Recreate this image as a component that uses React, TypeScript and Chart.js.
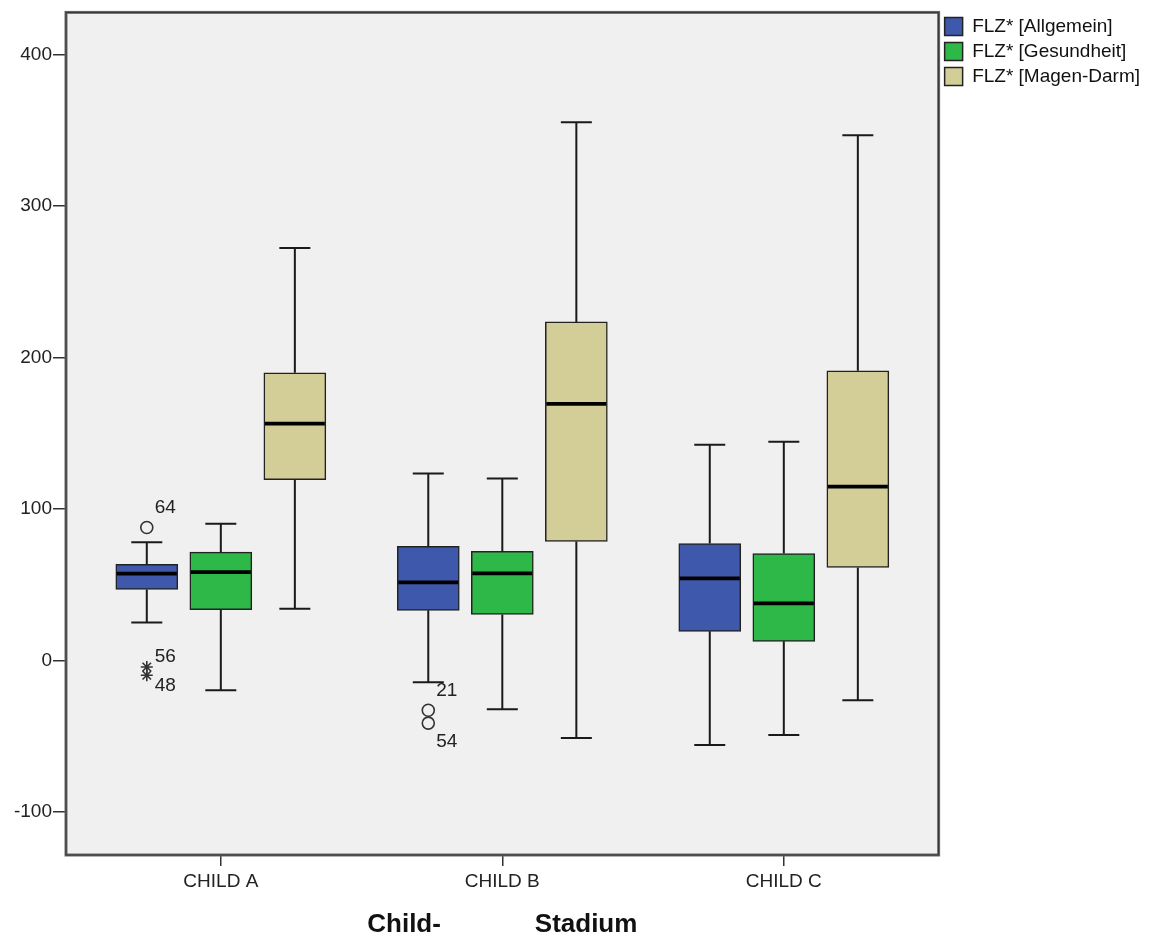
import React, { useEffect, useRef } from 'react';
import { Chart, registerables } from 'chart.js';

Chart.register(...registerables);

// ---------- data ----------
const CATEGORIES = ['CHILD A', 'CHILD B', 'CHILD C'];
const SERIES = ['FLZ* [Allgemein]', 'FLZ* [Gesundheit]', 'FLZ* [Magen-Darm]'];

// [series][category]
const WHISKER_LOW = [
  [24.9, -14.5, -56.0],
  [-19.8, -32.3, -49.4],
  [34.1, -51.4, -26.4],
];
const Q1 = [
  [46.8, 33.0, 19.1],
  [33.4, 30.3, 12.5],
  [119.3, 78.5, 61.3],
];
const MEDIAN = [
  [57.2, 51.4, 54.1],
  [58.2, 57.4, 37.6],
  [156.3, 169.4, 114.7],
];
const Q3 = [
  [63.3, 75.2, 77.1],
  [71.4, 71.9, 70.5],
  [189.9, 223.5, 191.2],
];
const WHISKER_HIGH = [
  [78.0, 123.3, 142.4],
  [90.1, 120.0, 144.4],
  [272.3, 355.4, 346.8],
];

const OUTLIER_IDS = ['64', '56', '48', '21', '54'];
const OUTLIER_VALUES = [87.7, -4.4, -9.9, -33.0, -41.5];
const OUTLIER_CATEGORY = [0, 0, 0, 1, 1];
const OUTLIER_SERIES = [0, 0, 0, 0, 0];
const OUTLIER_EXTREME = [false, true, true, false, false];

const Y_TICKS = [-100, 0, 100, 200, 300, 400];
const Y_MIN = -128.6;
const Y_MAX = 427.9;
const X_TITLE = 'Child-             Stadium';

// ---------- styles / layout ----------
const COLORS = ['#3E58AC', '#2EB848', '#D3CE97'];
const FONT = "'Liberation Sans', Arial, sans-serif";
const SERIES_OFFSET = 0.263;
const X_MIN = -0.55;
const X_MAX = 2.55;
const LABEL_DX = 8;
const LABEL_DY = [-20, -10, 10, -19, 19];

const boxParts = {
  id: 'boxParts',
  beforeDraw(chart: any) {
    const { ctx, chartArea: a } = chart;
    ctx.save();
    ctx.fillStyle = '#ffffff';
    ctx.fillRect(0, 0, chart.width, chart.height);
    ctx.fillStyle = '#f0f0f0';
    ctx.fillRect(a.left, a.top, a.right - a.left, a.bottom - a.top);
    ctx.restore();
  },
  afterDatasetsDraw(chart: any) {
    const { ctx, chartArea: a } = chart;
    const yScale = chart.scales.y;
    ctx.save();
    ctx.lineCap = 'butt';
    for (let s = 0; s < SERIES.length; s++) {
      const meta = chart.getDatasetMeta(s);
      meta.data.forEach((bar: any, c: number) => {
        const { x, width } = bar.getProps(['x', 'width'], true);
        const pHi = yScale.getPixelForValue(WHISKER_HIGH[s][c]);
        const pLo = yScale.getPixelForValue(WHISKER_LOW[s][c]);
        const pQ1 = yScale.getPixelForValue(Q1[s][c]);
        const pQ3 = yScale.getPixelForValue(Q3[s][c]);
        const pMed = yScale.getPixelForValue(MEDIAN[s][c]);
        ctx.strokeStyle = '#1a1a1a';
        ctx.lineWidth = 2;
        ctx.beginPath();
        ctx.moveTo(x, pQ3);
        ctx.lineTo(x, pHi);
        ctx.moveTo(x, pQ1);
        ctx.lineTo(x, pLo);
        ctx.moveTo(x - width / 4, pHi);
        ctx.lineTo(x + width / 4, pHi);
        ctx.moveTo(x - width / 4, pLo);
        ctx.lineTo(x + width / 4, pLo);
        ctx.stroke();
        ctx.strokeStyle = '#000000';
        ctx.lineWidth = 3.8;
        ctx.beginPath();
        ctx.moveTo(x - width / 2 + 1, pMed);
        ctx.lineTo(x + width / 2 - 1, pMed);
        ctx.stroke();
      });
    }
    // outlier labels
    ctx.fillStyle = '#222';
    ctx.font = `19px ${FONT}`;
    ctx.textAlign = 'left';
    ctx.textBaseline = 'middle';
    [3, 4].forEach((di) => {
      const meta = chart.getDatasetMeta(di);
      const ds = chart.data.datasets[di];
      meta.data.forEach((pt: any, j: number) => {
        const idx = ds.outlierIndex[j];
        ctx.fillText(OUTLIER_IDS[idx], pt.x + LABEL_DX, pt.y + LABEL_DY[idx]);
      });
    });
    // plot frame
    ctx.strokeStyle = '#6a6a6a';
    ctx.lineWidth = 3;
    ctx.strokeRect(a.left, a.top, a.right - a.left, a.bottom - a.top);
    ctx.strokeStyle = '#333';
    ctx.lineWidth = 1;
    ctx.strokeRect(a.left, a.top, a.right - a.left, a.bottom - a.top);
    ctx.restore();
  },
};

export default function App() {
  const ref = useRef<HTMLCanvasElement | null>(null);

  useEffect(() => {
    if (!ref.current) return;

    const boxDatasets = SERIES.map((label, s) => ({
      type: 'bar',
      label,
      data: CATEGORIES.map((_, c) => ({
        x: c + (s - 1) * SERIES_OFFSET,
        y: [Q1[s][c], Q3[s][c]],
      })),
      backgroundColor: COLORS[s],
      borderColor: '#222',
      borderWidth: 1.5,
      borderSkipped: false,
      grouped: false,
      maxBarThickness: 62,
      barPercentage: 1,
      categoryPercentage: 1,
      order: 2,
    }));

    const outlierSet = (extreme: boolean) => {
      const idxs = OUTLIER_VALUES.map((_, i) => i).filter((i) => OUTLIER_EXTREME[i] === extreme);
      return {
        type: 'scatter',
        label: extreme ? 'extreme' : 'outlier',
        outlierIndex: idxs,
        data: idxs.map((i) => ({
          x: OUTLIER_CATEGORY[i] + (OUTLIER_SERIES[i] - 1) * SERIES_OFFSET,
          y: OUTLIER_VALUES[i],
        })),
        pointStyle: extreme ? 'star' : 'circle',
        pointRadius: 6,
        pointBorderColor: '#333',
        pointBackgroundColor: 'rgba(0,0,0,0)',
        pointBorderWidth: 1.6,
        showLine: false,
        order: 1,
      };
    };

    const chart = new Chart(ref.current, {
      type: 'bar',
      data: {
        datasets: [...boxDatasets, outlierSet(false), outlierSet(true)] as any,
      },
      plugins: [boxParts],
      options: {
        responsive: false,
        animation: false,
        layout: { padding: { top: 11, right: 2, left: 0, bottom: 0 } },
        plugins: {
          tooltip: { enabled: false },
          legend: {
            position: 'right',
            align: 'start',
            labels: {
              filter: (item: any) => item.datasetIndex < 3,
              font: { family: FONT, size: 19 },
              color: '#111',
              boxWidth: 18,
              boxHeight: 18,
              padding: 6,
            },
          },
        },
        scales: {
          x: {
            type: 'linear',
            min: X_MIN,
            max: X_MAX,
            offset: false,
            afterBuildTicks: (s: any) => {
              s.ticks = CATEGORIES.map((_, i) => ({ value: i }));
            },
            afterFit: (s: any) => {
              s.height = 83;
            },
            ticks: {
              callback: (v: any) => CATEGORIES[v] ?? '',
              padding: 4,
              color: '#222',
              font: { family: FONT, size: 19 },
              maxRotation: 0,
              autoSkip: false,
            },
            grid: {
              offset: false,
              drawOnChartArea: false,
              drawTicks: true,
              tickLength: 11,
              color: '#333',
              lineWidth: 1.5,
            },
            border: { display: false },
            title: {
              display: true,
              text: X_TITLE,
              color: '#111',
              font: { family: FONT, size: 26, weight: 'bold', lineHeight: 1 },
              padding: 0,
            },
          },
          y: {
            type: 'linear',
            min: Y_MIN,
            max: Y_MAX,
            afterBuildTicks: (s: any) => {
              s.ticks = Y_TICKS.map((v) => ({ value: v }));
            },
            afterFit: (s: any) => {
              s.width = 66;
            },
            ticks: {
              padding: 1,
              color: '#222',
              font: { family: FONT, size: 19 },
            },
            grid: { drawOnChartArea: false, drawTicks: true, tickLength: 13, color: '#333', lineWidth: 1.5 },
            border: { display: false },
          },
        },
      } as any,
    });

    return () => chart.destroy();
  }, []);

  return (
    <div style={{ position: 'absolute', left: 0, top: 0, width: 1152, height: 938, background: '#fff' }}>
      <canvas ref={ref} width={1152} height={938} style={{ display: 'block' }} />
    </div>
  );
}
